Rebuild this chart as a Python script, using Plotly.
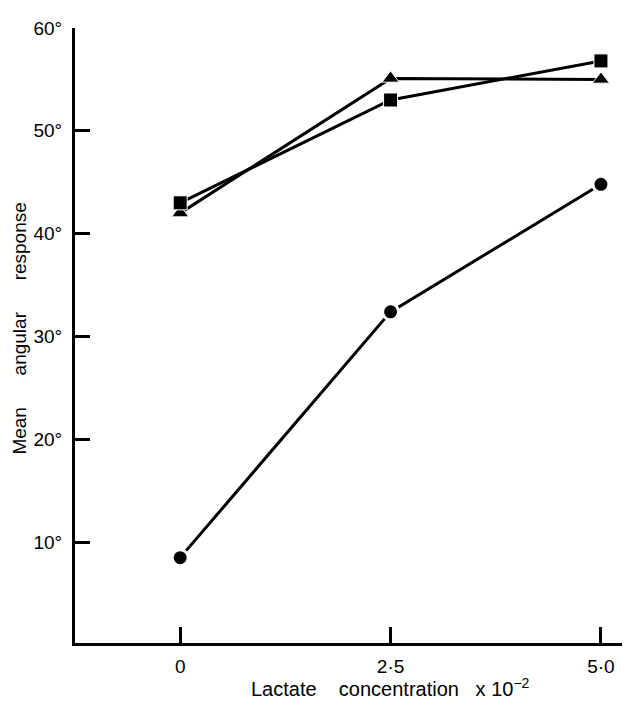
import plotly.graph_objects as go

concentration = [0, 2.5, 5.0]
x_tick_labels = ["0", "2·5", "5·0"]
y_tick_values = [10, 20, 30, 40, 50, 60]
y_tick_labels = ["10°", "20°", "30°", "40°", "50°", "60°"]

circles = [8.5, 32.4, 44.8]
squares = [43.0, 53.0, 56.8]
triangles = [42.0, 55.1, 55.0]

series = [
    ("triangles", triangles, "triangle-up", 15, 1.0),
    ("squares", squares, "square", 14, 1.0),
    ("circles", circles, "circle", 16, 3.0),
]

fig = go.Figure()
for name, vals, sym, size, gap in series:
    fig.add_trace(go.Scatter(x=concentration, y=vals, mode="lines",
                             line=dict(color="black", width=3),
                             showlegend=False, hoverinfo="skip"))
for name, vals, sym, size, gap in series:
    fig.add_trace(go.Scatter(x=concentration, y=vals, mode="markers", name=name,
                             marker=dict(symbol=sym, size=size, color="black",
                                         line=dict(color="white", width=gap)),
                             showlegend=False))

fam = "Liberation Sans, Arial, sans-serif"
font = dict(family=fam, size=19, color="black")

# page body has an 8px default margin; figure sized so it ends at the window edge
fig.update_layout(
    width=624, height=701,
    margin=dict(l=67, r=10, t=11, b=66),
    paper_bgcolor="white", plot_bgcolor="white",
    font=font,
    xaxis=dict(range=[-1.25, 5.25], tickvals=concentration, ticktext=x_tick_labels,
               ticks="inside", ticklen=16, tickwidth=2.5, tickcolor="black",
               showline=True, linecolor="black", linewidth=3,
               showgrid=False, zeroline=False, ticklabelstandoff=4),
    yaxis=dict(range=[0.2, 60], tickvals=y_tick_values, ticktext=y_tick_labels,
               ticks="inside", ticklen=15, tickwidth=2.5, tickcolor="black",
               showline=True, linecolor="black", linewidth=3,
               showgrid=False, zeroline=False, ticklabelstandoff=6),
    annotations=[
        dict(text="Lactate    concentration   x 10<sup>−2</sup>", xref="paper", yref="paper",
             x=(390 - 75) / 547, y=-(688 - 643) / 624, xanchor="center", yanchor="middle",
             showarrow=False, font=dict(family=fam, size=20, color="black")),
        dict(text="Mean      angular      response", xref="paper", yref="paper",
             x=-(75 - 20) / 547, y=(643 - 324) / 624, xanchor="center", yanchor="middle",
             textangle=-90, showarrow=False,
             font=dict(family=fam, size=19, color="black")),
    ],
)

fig.write_html("out.html")
